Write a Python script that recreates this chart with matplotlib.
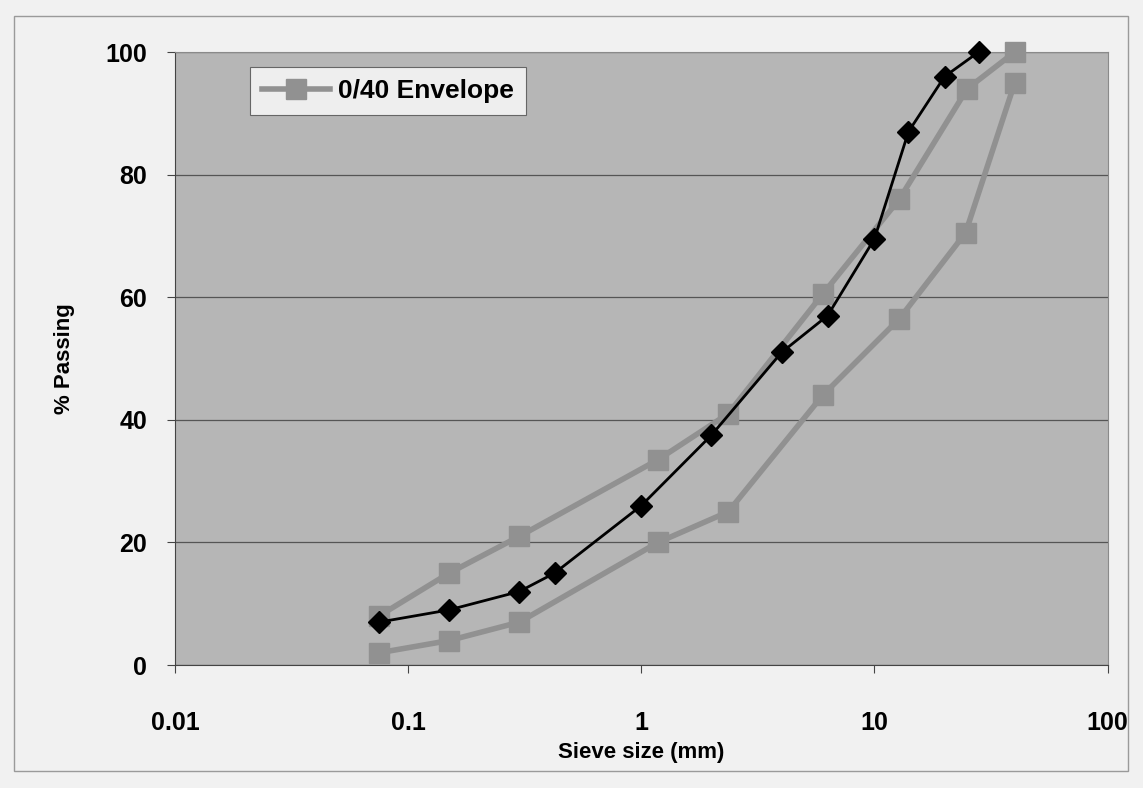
import numpy as np
import matplotlib.pyplot as plt
from matplotlib.patches import Rectangle

##################################################
## data
##################################################
# sample grading (black diamonds)
sample_size = [0.075, 0.15, 0.3, 0.425, 1.0, 2.0, 4.0, 6.3, 10, 14, 20, 28]
sample_pass = [7, 9, 12, 15, 26, 37.5, 51, 57, 69.5, 87, 96, 100]

# 0/40 envelope, upper limit
upper_size = [0.075, 0.15, 0.3, 1.18, 2.36, 6.0, 12.8, 25, 40]
upper_pass = [8, 15, 21, 33.5, 41, 60.5, 76, 94, 100]

# 0/40 envelope, lower limit
lower_size = [0.075, 0.15, 0.3, 1.18, 2.36, 6.0, 12.8, 24.6, 40]
lower_pass = [2, 4, 7, 20, 25, 44, 56.5, 70.5, 95]

xticks = [0.01, 0.1, 1, 10, 100]
xlabels = ['0.01', '0.1', '1', '10', '100']
yticks = [0, 20, 40, 60, 80, 100]

##################################################
## plot
##################################################
plt.rcParams['font.family'] = ['Liberation Sans', 'DejaVu Sans']
plt.rcParams['font.weight'] = 'bold'

fig = plt.figure(figsize=(11.43, 7.88), dpi=100, facecolor='#f1f1f1')
ax = fig.add_axes([0.153, 0.156, 0.816, 0.778])
ax.set_facecolor('#b6b6b6')

# thin outer frame of the chart
fig.patches.append(Rectangle((0.012, 0.022), 0.975, 0.958, transform=fig.transFigure,
                             fill=False, edgecolor='#9a9a9a', linewidth=1.0))

grey = '#919191'
ax.plot(upper_size, upper_pass, color=grey, lw=4, marker='s', ms=15,
        mfc=grey, mec=grey, label='0/40 Envelope', zorder=3, clip_on=False)
ax.plot(lower_size, lower_pass, color=grey, lw=4, marker='s', ms=15,
        mfc=grey, mec=grey, zorder=3, clip_on=False)
ax.plot(sample_size, sample_pass, color='black', lw=2, marker='D', ms=11,
        mfc='black', mec='black', zorder=4, clip_on=False)

ax.set_xscale('log')
ax.set_xlim(0.01, 100)
ax.set_ylim(0, 100)
ax.set_xticks(xticks)
ax.set_xticklabels(xlabels)
ax.minorticks_off()
ax.set_yticks(yticks)

ax.yaxis.grid(True, color='#555555', lw=0.9)
ax.set_axisbelow(True)
for s in ['top', 'right']:
    ax.spines[s].set_color('#8a8a8a')
for s in ['left', 'bottom']:
    ax.spines[s].set_color('#444444')

ax.tick_params(axis='x', labelsize=18, pad=27, length=6, color='#444444')
ax.tick_params(axis='y', labelsize=18, pad=14, length=6, color='#444444')

ax.set_xlabel('Sieve size (mm)', fontsize=16, fontweight='bold', labelpad=5)
ax.set_ylabel('% Passing', fontsize=16, fontweight='bold', labelpad=22)

leg = ax.legend(loc='upper left', bbox_to_anchor=(0.066, 0.997), fontsize=19,
                frameon=True, fancybox=False, edgecolor='#666666',
                facecolor='#eeeeee', framealpha=1, handlelength=2.6,
                borderpad=0.45, handletextpad=0.3)
leg.get_frame().set_linewidth(0.8)

fig.savefig('out.png', dpi=100, facecolor=fig.get_facecolor())
